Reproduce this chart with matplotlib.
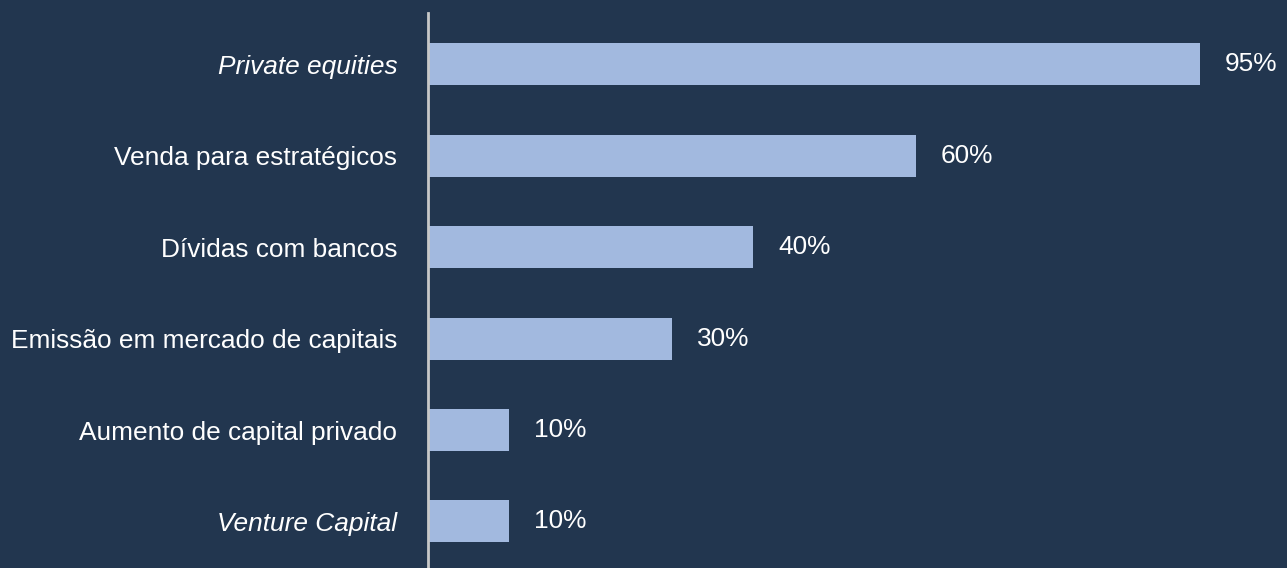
import matplotlib
matplotlib.use("Agg")
import matplotlib.pyplot as plt

categories = [
    "Private equities",
    "Venda para estratégicos",
    "Dívidas com bancos",
    "Emissão em mercado de capitais",
    "Aumento de capital privado",
    "Venture Capital",
]
values = [95, 60, 40, 30, 10, 10]
italic_labels = {"Private equities", "Venture Capital"}

BG = "#22364F"
BAR = "#A2B9DF"
TEXT = "#FFFFFF"
AXIS = "#C8C8C8"
FS = 18.9

plt.rcParams["font.family"] = ["Liberation Sans", "DejaVu Sans"]

fig = plt.figure(figsize=(12.87, 5.68), dpi=100, facecolor=BG)
ax = fig.add_axes([428 / 1287, 0.0, 1 - 428 / 1287, 1 - 13 / 568])
ax.set_facecolor(BG)

y = list(range(len(categories)))
ax.barh(y, values, height=0.46, color=BAR, zorder=2)

ax.set_xlim(0, 105.7)
ax.set_ylim(5.51, -0.563)

for yi, v in zip(y, values):
    ax.text(v + 3.1, yi, f"{v}%", va="center", ha="left",
            color=TEXT, fontsize=FS)

ax.set_yticks(y)
ax.set_yticklabels(categories)
for lbl in ax.get_yticklabels():
    lbl.set_color(TEXT)
    lbl.set_fontsize(FS)
    if lbl.get_text() in italic_labels:
        lbl.set_style("italic")
ax.tick_params(axis="y", length=0, pad=22)
ax.set_xticks([])

for side in ("top", "right", "bottom"):
    ax.spines[side].set_visible(False)
ax.spines["left"].set_color(AXIS)
ax.spines["left"].set_linewidth(2)
ax.spines["left"].set_zorder(3)

fig.savefig("out.png", dpi=100, facecolor=BG)
